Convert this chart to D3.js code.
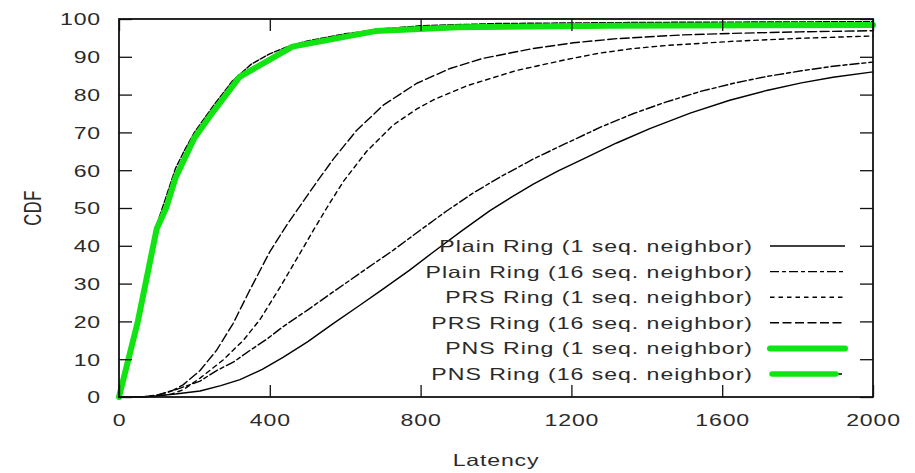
<!DOCTYPE html>
<html>
<head>
<meta charset="utf-8">
<script src="https://cdn.jsdelivr.net/npm/d3@7"></script>
<style>
  html, body { margin: 0; padding: 0; background: #fff; }
  svg { display: block; }
  text { font-family: "Liberation Sans", Arial, sans-serif; fill: #2a2a2a; }
</style>
</head>
<body>
<svg id="chart" width="915" height="473"></svg>
<script>
// Latency (x) and CDF percentage (y) readings for each configuration
const plain1Latency = [0, 60, 100, 150, 215, 270, 321, 380, 435, 500, 568, 635, 701, 770, 833, 910, 984, 1040, 1099, 1165, 1232, 1320, 1408, 1515, 1620, 1718, 1810, 1894, 2000];
const plain1Cdf     = [0, 0, 0.3, 0.8, 1.6, 3, 4.6, 7.3, 10.5, 14.6, 19.4, 24, 28.6, 33.5, 38.3, 44, 49.3, 52.8, 56.3, 59.8, 63, 67.2, 71, 75.1, 78.5, 81.1, 83.1, 84.6, 86];

const plain16Latency = [0, 60, 100, 153, 215, 259, 303, 347, 392, 435, 500, 568, 650, 727, 800, 869, 940, 1011, 1100, 1188, 1280, 1365, 1450, 1541, 1630, 1718, 1810, 1894, 2000];
const plain16Cdf     = [0, 0, 0.5, 2, 4.2, 7, 9.2, 12.3, 15.3, 18.6, 23, 27.8, 33.5, 38.8, 44.2, 49.2, 54, 58.2, 63, 67.2, 71.5, 75, 78, 80.8, 83, 84.8, 86.3, 87.5, 88.6];

const prs1Latency = [0, 60, 100, 140, 170, 215, 276, 330, 374, 427, 480, 515, 551, 595, 657, 728, 790, 834, 922, 1055, 1188, 1276, 1365, 1453, 1629, 1806, 2000];
const prs1Cdf     = [0, 0, 0.2, 0.8, 1.9, 5, 9.8, 15, 20.5, 29, 38, 44, 50, 57, 65, 72, 76.2, 78.6, 82.3, 86.4, 89.3, 91, 92.2, 93, 94.1, 94.9, 95.5];

const prs16Latency = [0, 60, 100, 140, 170, 215, 259, 303, 347, 400, 445, 489, 524, 569, 630, 701, 790, 878, 966, 1099, 1205, 1320, 1496, 1629, 1806, 2000];
const prs16Cdf     = [0, 0, 0.4, 1.6, 3.2, 7, 12.4, 19.5, 28.3, 38.4, 45.5, 51.8, 56.8, 63, 70.5, 77.2, 83, 86.9, 89.6, 92.2, 93.7, 94.8, 95.8, 96.2, 96.6, 96.9];

const pns1Latency = [0, 50, 100, 125, 150, 200, 250, 320, 460, 680, 900, 1300, 2000];
const pns1Cdf     = [0, 20, 44.5, 50, 58, 68.5, 75.5, 84.7, 92.7, 96.8, 97.8, 98.2, 98.4];

const pns16Latency = [0, 25, 50, 75, 100, 125, 150, 175, 200, 250, 300, 350, 400, 450, 500, 600, 700, 800, 1000, 1400, 2000];
const pns16Cdf     = [0, 9, 21, 33, 45.5, 53, 60.5, 65.5, 70, 77, 83.5, 88, 90.8, 92.8, 94.2, 96.1, 97.4, 98.2, 98.8, 99.1, 99.3];

const seriesNames = [
  "Plain Ring (1 seq. neighbor)",
  "Plain Ring (16 seq. neighbor)",
  "PRS Ring (1 seq. neighbor)",
  "PRS Ring (16 seq. neighbor)",
  "PNS Ring (1 seq. neighbor)",
  "PNS Ring (16 seq. neighbor)"
];

const latencyTicks = [0, 400, 800, 1200, 1600, 2000];
const cdfTicks = [0, 10, 20, 30, 40, 50, 60, 70, 80, 90, 100];

const GREEN = "#12e312";
const STRETCH = "scale(1.4,1)";

const series = [
  { name: seriesNames[0], lat: plain1Latency,  cdf: plain1Cdf,  color: "#000", width: 1.4, dash: null },
  { name: seriesNames[1], lat: plain16Latency, cdf: plain16Cdf, color: "#000", width: 1.4, dash: "9,3,4,3" },
  { name: seriesNames[2], lat: prs1Latency,    cdf: prs1Cdf,    color: "#000", width: 1.4, dash: "4.5,4" },
  { name: seriesNames[3], lat: prs16Latency,   cdf: prs16Cdf,   color: "#000", width: 1.4, dash: "9,3.5" },
  { name: seriesNames[4], lat: pns1Latency,    cdf: pns1Cdf,    color: GREEN,  width: 6,   dash: null },
  { name: seriesNames[5], lat: pns16Latency,   cdf: pns16Cdf,   color: "#000", width: 1.4, dash: "6,2" }
];

const svg = d3.select("#chart");
const plotLeft = 119, plotRight = 873, plotTop = 19, plotBottom = 397;

const x = d3.scaleLinear().domain([0, 2000]).range([plotLeft, plotRight]);
const y = d3.scaleLinear().domain([0, 100]).range([plotBottom, plotTop]);

// Curves: PNS 16 sits underneath the thick green PNS 1 line
const line = d3.line().x(d => x(d[0])).y(d => y(d[1]));
const drawOrder = [5, 0, 1, 2, 3, 4];
const plot = svg.append("g");
drawOrder.forEach(i => {
  const s = series[i];
  plot.append("path")
    .datum(s.lat.map((v, k) => [v, s.cdf[k]]))
    .attr("d", line)
    .attr("fill", "none")
    .attr("stroke", s.color)
    .attr("stroke-width", s.width)
    .attr("stroke-linejoin", "round")
    .attr("stroke-linecap", "round")
    .attr("stroke-dasharray", s.dash);
});

// Axes with inward ticks, mirrored on the top and right edges
const axisStyle = g => {
  g.select(".domain").remove();
  g.selectAll(".tick line").attr("stroke", "#111").attr("stroke-width", 1.3);
};
const labelStyle = sel => sel
  .attr("font-size", 16.5).attr("letter-spacing", 0.6).attr("fill", "#2a2a2a")
  .style("font-family", '"Liberation Sans", Arial, sans-serif');

svg.append("g").attr("transform", `translate(0,${plotBottom})`)
  .call(d3.axisBottom(x).tickValues(latencyTicks).tickSize(-12).tickFormat(d3.format("d")))
  .call(axisStyle)
  .call(g => g.selectAll(".tick text")
    .attr("y", 29).attr("dy", 0).attr("transform", STRETCH)
    .call(labelStyle));
svg.append("g").attr("transform", `translate(0,${plotTop})`)
  .call(d3.axisTop(x).tickValues(latencyTicks).tickSize(-12).tickFormat(""))
  .call(axisStyle);
svg.append("g").attr("transform", `translate(${plotLeft},0)`)
  .call(d3.axisLeft(y).tickValues(cdfTicks).tickSize(-13).tickFormat(d3.format("d")))
  .call(axisStyle)
  .call(g => g.selectAll(".tick text")
    .attr("x", 0).attr("dy", "0.36em").attr("transform", `translate(-18,0) ${STRETCH}`)
    .call(labelStyle));
svg.append("g").attr("transform", `translate(${plotRight},0)`)
  .call(d3.axisRight(y).tickValues(cdfTicks).tickSize(-13).tickFormat(""))
  .call(axisStyle);

// Plot frame
svg.append("rect")
  .attr("x", plotLeft).attr("y", plotTop)
  .attr("width", plotRight - plotLeft).attr("height", plotBottom - plotTop)
  .attr("fill", "none").attr("stroke", "#111").attr("stroke-width", 1.8);

// Axis titles
svg.append("text")
  .attr("transform", `translate(${(plotLeft + plotRight) / 2},466) ${STRETCH}`)
  .attr("text-anchor", "middle").attr("font-size", 16.5).attr("letter-spacing", 0.6)
  .text("Latency");
svg.append("text")
  .attr("transform", `translate(41,208) ${STRETCH} rotate(-90)`)
  .attr("text-anchor", "middle").attr("font-size", 16.5).attr("letter-spacing", 0.6)
  .text("CDF");

// Legend
const legend = svg.append("g");
const rowY = i => 246 + i * 25.6;
series.forEach((s, i) => {
  legend.append("text")
    .attr("transform", `translate(753,${rowY(i) + 6}) ${STRETCH}`)
    .attr("text-anchor", "end").attr("font-size", 16.5).attr("letter-spacing", 0.7)
    .text(s.name);
});
const sampleX0 = 770, sampleX1 = 845;
[0, 1, 2, 3].forEach(i => {
  const s = series[i];
  legend.append("line")
    .attr("x1", sampleX0).attr("x2", sampleX1)
    .attr("y1", rowY(i)).attr("y2", rowY(i))
    .attr("stroke", s.color).attr("stroke-width", s.width)
    .attr("stroke-dasharray", s.dash);
});
legend.append("line")
  .attr("x1", sampleX0).attr("x2", sampleX1)
  .attr("y1", rowY(4)).attr("y2", rowY(4))
  .attr("stroke", GREEN).attr("stroke-width", 6).attr("stroke-linecap", "round");
legend.append("line")
  .attr("x1", sampleX0).attr("x2", 842)
  .attr("y1", rowY(5)).attr("y2", rowY(5))
  .attr("stroke", "#000").attr("stroke-width", 1.4);
legend.append("line")
  .attr("x1", sampleX0 + 2).attr("x2", 836)
  .attr("y1", rowY(5)).attr("y2", rowY(5))
  .attr("stroke", GREEN).attr("stroke-width", 5.5).attr("stroke-linecap", "round");
</script>
</body>
</html>
